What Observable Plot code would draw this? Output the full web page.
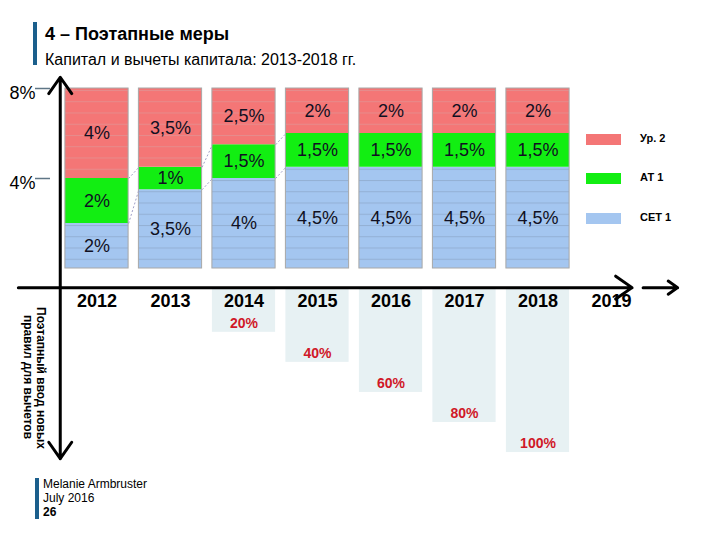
<!DOCTYPE html>
<html>
<head>
<meta charset="utf-8">
<script src="https://cdn.jsdelivr.net/npm/d3@7"></script>
<script src="https://cdn.jsdelivr.net/npm/@observablehq/plot@0.6"></script>
<style>
  html, body { margin: 0; padding: 0; background: #fff; }
  body { width: 720px; height: 540px; position: relative; overflow: hidden; font-family: "Liberation Sans", Arial, sans-serif; }
  #chart { position: absolute; left: 0; top: 0; }
  .bar { position: absolute; background: #1b5f8c; }
  .abs { position: absolute; white-space: nowrap; color: #000; }
  .sw { position: absolute; width: 35px; height: 11px; }
</style>
</head>
<body>
<div class="bar" style="left:33px;top:22px;width:4px;height:43px;"></div>
<div class="abs" style="left:45px;top:24px;font-size:18px;font-weight:bold;">4 – Поэтапные меры</div>
<div class="abs" style="left:45px;top:51px;font-size:16px;">Капитал и вычеты капитала: 2013-2018 гг.</div>

<div id="chart"></div>

<div class="abs" style="left:17px;top:300px;width:30px;height:155px;writing-mode:vertical-rl;text-align:center;font-size:12px;font-weight:bold;line-height:13px;white-space:normal;">Поэтапный ввод новых правил для вычетов</div>

<div id="legend"></div>

<div class="bar" style="left:35px;top:478px;width:4px;height:41px;"></div>
<div class="abs" style="left:43px;top:477px;font-size:12px;line-height:14px;">Melanie Armbruster<br>July 2016<br><b>26</b></div>

<script>
// ---- data ----
const years = [2012, 2013, 2014, 2015, 2016, 2017, 2018];
const cet1  = [2, 3.5, 4, 4.5, 4.5, 4.5, 4.5];
const at1   = [2, 1, 1.5, 1.5, 1.5, 1.5, 1.5];
const tier2 = [4, 3.5, 2.5, 2, 2, 2, 2];
const axisYears = [2012, 2013, 2014, 2015, 2016, 2017, 2018, 2019];
const phaseYears = [2014, 2015, 2016, 2017, 2018];
const phaseIn = [20, 40, 60, 80, 100];
const yTicks = [4, 8];
const legendLabels = ["Ур. 2", "АТ 1", "СЕТ 1"];
const legendColors = ["#f47676", "#12ee12", "#a4c6f0"];

// ---- derived tables ----
const fmt = v => String(v).replace(".", ",") + "%";
const half = 0.43;
const segs = [];
years.forEach((yr, i) => {
  const a = cet1[i], b = at1[i], c = tier2[i];
  segs.push({year: yr, comp: "cet1", y1: 0, y2: a, v: a});
  segs.push({year: yr, comp: "at1", y1: a, y2: a + b, v: b});
  segs.push({year: yr, comp: "t2", y1: a + b, y2: a + b + c, v: c});
});
const links = [];
for (let i = 0; i < years.length - 1; i++) {
  const lv = [[cet1[i], cet1[i + 1]], [cet1[i] + at1[i], cet1[i + 1] + at1[i + 1]]];
  lv.forEach(([a, b]) => { if (a !== b) links.push({x1: years[i] + half, x2: years[i + 1] - half, y1: a, y2: b}); });
}
const phase = phaseYears.map((yr, i) => ({year: yr, p: phaseIn[i], bottom: -(1.5 + phaseIn[i] * 0.0668)}));
const axisLevel = -0.85;

const svg = Plot.plot({
  width: 720,
  height: 540,
  marginLeft: 50, marginRight: 0, marginTop: 0, marginBottom: 0,
  x: {type: "linear", domain: [2012, 2019], range: [96.5, 611], axis: null},
  y: {type: "linear", domain: [0, 8], range: [268, 88], axis: null},
  style: {fontFamily: "Liberation Sans, Arial, sans-serif", background: "transparent", overflow: "visible"},
  marks: [
    // phase-in backgrounds
    Plot.rect(phase, {x1: d => d.year - half, x2: d => d.year + half, y1: axisLevel - 0.08, y2: "bottom", fill: "#e7f1f3"}),
    Plot.text(phase, {x: "year", y: d => d.bottom + 0.4, text: d => d.p + "%", fill: "#d01828", fontSize: 14, fontWeight: "bold"}),
    // bars
    Plot.rect(segs.filter(d => d.comp === "cet1"), {x1: d => d.year - half, x2: d => d.year + half, y1: "y1", y2: "y2", fill: "url(#stripeBlue)"}),
    Plot.rect(segs.filter(d => d.comp === "at1"), {x1: d => d.year - half, x2: d => d.year + half, y1: "y1", y2: "y2", fill: "#12ee12"}),
    Plot.rect(segs.filter(d => d.comp === "t2"), {x1: d => d.year - half, x2: d => d.year + half, y1: "y1", y2: "y2", fill: "url(#stripeRed)"}),
    Plot.rect(years, {x1: d => d - half, x2: d => d + half, y1: 0, y2: d => cet1[years.indexOf(d)] + at1[years.indexOf(d)] + tier2[years.indexOf(d)], fill: "none", stroke: "#a8a8a8", strokeWidth: 1}),
    Plot.link(links, {x1: "x1", x2: "x2", y1: "y1", y2: "y2", stroke: "#a0a0c8", strokeDasharray: "2,2", strokeWidth: 1}),
    Plot.text(segs, {x: "year", y: d => (d.y1 + d.y2) / 2, text: d => fmt(d.v), fontSize: 18, fill: "#101022"}),
    // y ticks
    Plot.axisY({ticks: yTicks, tickSize: 15, tickFormat: () => "", stroke: "#5f7686", strokeWidth: 1.5, label: null}),
    Plot.axisY({ticks: yTicks, tickSize: 0, tickPadding: 15, tickFormat: d => d + "%", fontSize: 18, fill: "#000", dy: 5, label: null}),
    // axes arrows
    Plot.arrow([0], {x1: 2010.93, x2: 2019.28, y1: axisLevel, y2: axisLevel, stroke: "#000", strokeWidth: 3, headLength: 10, headAngle: 70}),
    Plot.arrow([0], {x1: 2019.43, x2: 2019.9, y1: axisLevel, y2: axisLevel, stroke: "#000", strokeWidth: 3, headLength: 10, headAngle: 70}),
    Plot.arrow([0], {x1: 2011.5, x2: 2011.5, y1: axisLevel, y2: 8.5, stroke: "#000", strokeWidth: 3, headLength: 10, headAngle: 70}),
    Plot.arrow([0], {x1: 2011.5, x2: 2011.5, y1: axisLevel, y2: -8.45, stroke: "#000", strokeWidth: 3, headLength: 10, headAngle: 70}),
    // year labels
    Plot.text(axisYears, {x: d => d, y: -1.45, text: d => String(d), fontSize: 18, fontWeight: "bold", fill: "#000"})
  ]
});

const defs = d3.select(svg).insert("defs", ":first-child");
const addPattern = (id, base, line) => {
  const p = defs.append("pattern").attr("id", id).attr("patternUnits", "userSpaceOnUse")
    .attr("width", 10).attr("height", 11.25);
  p.append("rect").attr("width", 10).attr("height", 11.25).attr("fill", base);
  p.append("rect").attr("y", 0).attr("width", 10).attr("height", 1).attr("fill", line);
};
addPattern("stripeRed", "#f47676", "#e68c8c");
addPattern("stripeBlue", "#a4c6f0", "#93b0d4");
document.getElementById("chart").appendChild(svg);

// legend
const lg = document.getElementById("legend");
const legTops = [134, 173, 213];
legendLabels.forEach((t, i) => {
  const sw = document.createElement("div");
  sw.className = "sw";
  sw.style.left = "586px"; sw.style.top = legTops[i] + "px"; sw.style.background = legendColors[i];
  lg.appendChild(sw);
  const tx = document.createElement("div");
  tx.className = "abs";
  tx.style.left = "640px"; tx.style.top = (legTops[i] - 2) + "px";
  tx.style.fontSize = "11px"; tx.style.fontWeight = "bold";
  tx.textContent = t;
  lg.appendChild(tx);
});
</script>
</body>
</html>
